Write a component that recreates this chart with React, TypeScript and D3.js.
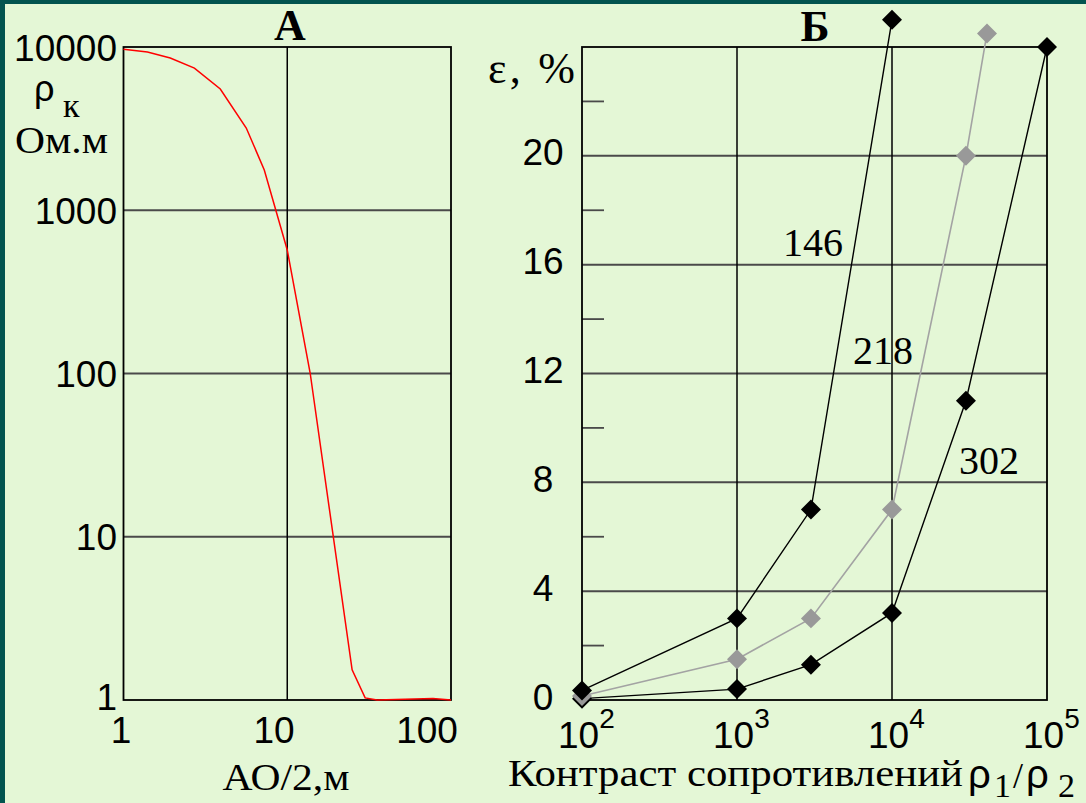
import React from "react";
import * as d3 from "d3";

// Panel A: apparent resistivity curve
const AO_HALF = [1, 1.4, 1.93, 2.71, 3.9, 5.62, 7.24, 10, 13.8, 24.9, 29.9, 35.4, 77.6, 100];
const RHO_K = [9700, 9320, 8570, 7430, 5530, 3190, 1765, 571, 100.7, 1.53, 1.03, 1.0, 1.02, 1.0];
const A_Y_TICKS = [1, 10, 100, 1000, 10000];
const A_X_TICKS = [1, 10, 100];

// Panel B: error vs resistivity contrast
const SERIES_NAMES = ["302", "218", "146"];
const CONTRAST_302 = [100, 1000, 3000, 10000, 30000, 100000];
const EPS_302 = [0.05, 0.4, 1.3, 3.2, 11, 24];
const CONTRAST_218 = [100, 1000, 3000, 10000, 30000, 41000];
const EPS_218 = [0.15, 1.5, 3, 7, 20, 24.5];
const CONTRAST_146 = [100, 1000, 3000, 10000];
const EPS_146 = [0.35, 3, 7, 25];
const B_Y_TICKS = [0, 4, 8, 12, 16, 20];
const B_Y_MINOR = [2, 6, 10, 14, 18, 22];
const B_X_EXP = [2, 3, 4, 5];

const SERIF = "'Liberation Serif', 'Times New Roman', serif";
const SANS = "'Liberation Sans', Arial, sans-serif";

export default function App() {
  // scales
  const xA = d3.scaleLog().domain([1, 100]).range([123.5, 451]);
  const yA = d3.scaleLog().domain([1, 10000]).range([700, 47]);
  const xALabel = d3.scalePoint<number>().domain(A_X_TICKS).range([121, 427]);
  const xB = d3.scaleLog().domain([100, 100000]).range([582, 1047]);
  const yB = d3.scaleLinear().domain([0, 24]).range([700, 47]);

  const lineA = d3
    .line<number>()
    .x((_, i) => xA(AO_HALF[i]))
    .y((d) => yA(d));

  const series = [
    { name: SERIES_NAMES[0], xs: CONTRAST_302, ys: EPS_302, color: "#000000", line: "#000000" },
    { name: SERIES_NAMES[1], xs: CONTRAST_218, ys: EPS_218, color: "#999999", line: "#a3a3a3" },
    { name: SERIES_NAMES[2], xs: CONTRAST_146, ys: EPS_146, color: "#000000", line: "#000000" },
  ];
  const lineB = (xs: number[], ys: number[]) =>
    d3
      .line<number>()
      .x((_, i) => xB(xs[i]))
      .y((d) => yB(d))(ys) || "";
  const diamond = d3.symbol().type(d3.symbolSquare).size(200)() || "";

  const labelPos: Record<string, [number, number]> = {
    "146": [783, 256],
    "218": [853, 364],
    "302": [959, 474],
  };

  return (
    <svg
      width={1086}
      height={803}
      style={{ position: "absolute", left: 0, top: 0 }}
    >
      <rect x={0} y={0} width={1086} height={803} fill="#02544f" />
      <rect x={5} y={4} width={1081} height={799} fill="#e4f7d6" />

      {/* ===== Panel A ===== */}
      <g>
        {A_Y_TICKS.slice(1, -1).map((t) => (
          <line key={t} x1={xA(1)} x2={xA(100)} y1={yA(t)} y2={yA(t)} stroke="#4a4a4a" strokeWidth={2} />
        ))}
        <line x1={xA(10)} x2={xA(10)} y1={yA(1)} y2={yA(10000)} stroke="#000" strokeWidth={1.5} />
        <rect
          x={xA(1)}
          y={yA(10000)}
          width={xA(100) - xA(1)}
          height={yA(1) - yA(10000)}
          fill="none"
          stroke="#000"
          strokeWidth={1.8}
        />
        <path d={lineA(RHO_K) || ""} fill="none" stroke="#ff0000" strokeWidth={1.5} />
        {A_Y_TICKS.map((t) => (
          <text
            key={t}
            x={117}
            y={t === 1 ? 710 : yA(t) + 13.5}
            textAnchor="end"
            fontFamily={SANS}
            fontSize={37}
            fill="#000"
          >
            {t}
          </text>
        ))}
        {A_X_TICKS.map((t) => (
          <text
            key={t}
            x={xALabel(t)}
            y={743}
            textAnchor="middle"
            fontFamily={SANS}
            fontSize={37}
            fill="#000"
          >
            {t}
          </text>
        ))}
        <text x={290} y={40} textAnchor="middle" fontFamily={SERIF} fontWeight="bold" fontSize={44}>
          А
        </text>
        <text x={34} y={101} fontFamily={SANS} fontSize={36}>
          ρ
        </text>
        <text x={63} y={117} fontFamily={SERIF} fontSize={34}>
          к
        </text>
        <text x={15} y={153} fontFamily={SERIF} fontSize={38} textLength={93} lengthAdjust="spacingAndGlyphs">
          Ом.м
        </text>
        <text x={286} y={790} textAnchor="middle" fontFamily={SERIF} fontSize={37} textLength={127} lengthAdjust="spacingAndGlyphs">
          АО/2,м
        </text>
      </g>

      {/* ===== Panel B ===== */}
      <g>
        {B_Y_TICKS.slice(1).map((t) => (
          <line key={t} x1={xB(100)} x2={xB(100000)} y1={yB(t)} y2={yB(t)} stroke="#4a4a4a" strokeWidth={2} />
        ))}
        {B_Y_MINOR.map((t) => (
          <line key={t} x1={xB(100)} x2={xB(100) + 22} y1={yB(t)} y2={yB(t)} stroke="#4a4a4a" strokeWidth={1.8} />
        ))}
        {[1000, 10000].map((t) => (
          <line key={t} x1={xB(t)} x2={xB(t)} y1={yB(0)} y2={yB(24)} stroke="#000" strokeWidth={1.5} />
        ))}
        <rect
          x={xB(100)}
          y={yB(24)}
          width={xB(100000) - xB(100)}
          height={yB(0) - yB(24)}
          fill="none"
          stroke="#000"
          strokeWidth={1.8}
        />
        {series.map((s) => (
          <g key={s.name}>
            <path d={lineB(s.xs, s.ys)} fill="none" stroke={s.line} strokeWidth={s.color === "#000000" ? 1.4 : 1.6} />
            {s.ys.map((v, i) => (
              <path
                key={i}
                d={diamond}
                transform={`translate(${xB(s.xs[i])},${yB(v)}) rotate(45)`}
                fill={s.color}
              />
            ))}
          </g>
        ))}
        {series.map((s) => (
          <text key={s.name} x={labelPos[s.name][0]} y={labelPos[s.name][1]} fontFamily={SERIF} fontSize={40}>
            {s.name}
          </text>
        ))}
        {B_Y_TICKS.map((t) => (
          <text
            key={t}
            x={543}
            y={yB(t) + 9.5}
            textAnchor="middle"
            fontFamily={SANS}
            fontSize={37}
          >
            {t}
          </text>
        ))}
        {B_X_EXP.map((e) => (
          <text key={e} x={xB(Math.pow(10, e)) - 24} y={748} fontFamily={SANS} fontSize={37}>
            10
            <tspan dy={-20} fontSize={28}>
              {e}
            </tspan>
          </text>
        ))}
        <text x={815} y={41} textAnchor="middle" fontFamily={SERIF} fontWeight="bold" fontSize={44}>
          Б
        </text>
        <text x={488} y={83} fontFamily={SERIF} fontSize={44} textLength={87} lengthAdjust="spacing">
          ε, %
        </text>
        <text x={508} y={786} fontFamily={SERIF} fontSize={37} textLength={455} lengthAdjust="spacingAndGlyphs">
          Контраст сопротивлений
        </text>
        <text x={968} y={788} fontFamily={SANS} fontSize={40}>
          ρ
        </text>
        <text x={994} y={797} fontFamily={SERIF} fontSize={34}>
          1
        </text>
        <text x={1013} y={788} fontFamily={SERIF} fontSize={36}>
          /
        </text>
        <text x={1026} y={788} fontFamily={SANS} fontSize={40}>
          ρ
        </text>
        <text x={1058} y={797} fontFamily={SERIF} fontSize={34}>
          2
        </text>
      </g>
    </svg>
  );
}
